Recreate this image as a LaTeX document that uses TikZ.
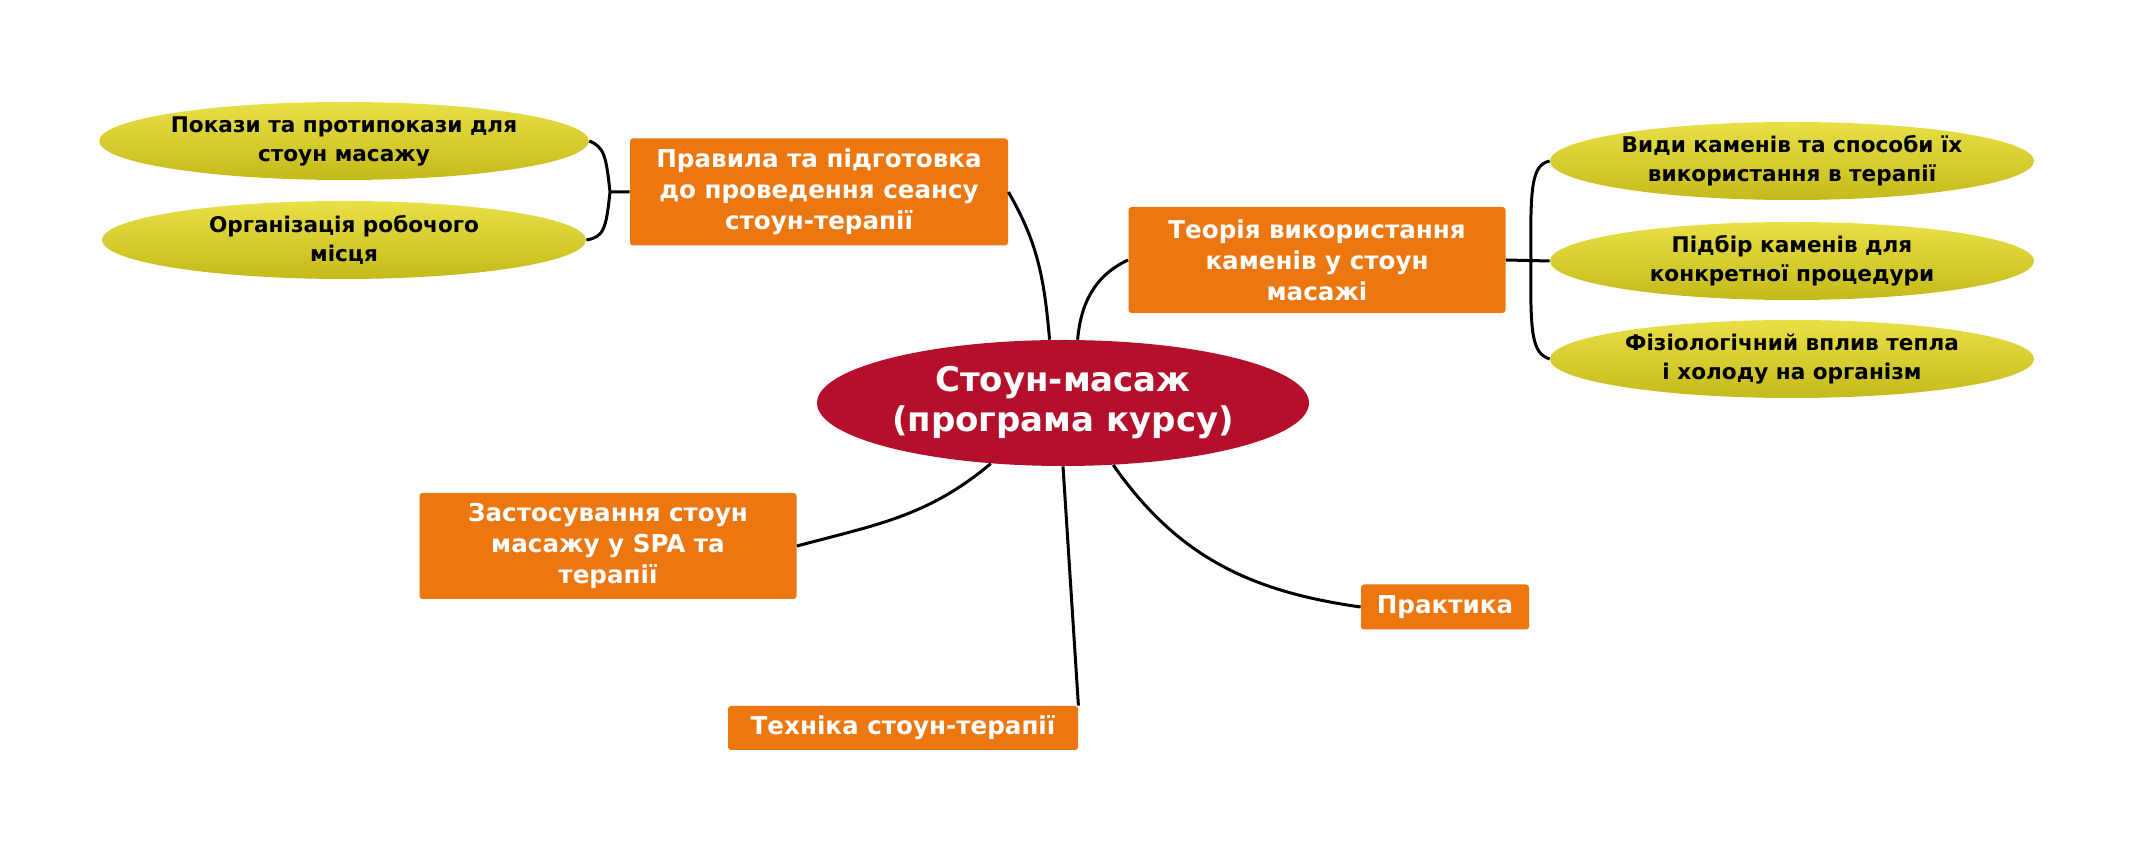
\documentclass[tikz,border=0pt]{standalone}
\usepackage{fontspec}
\setmainfont{DejaVu Sans}
\usetikzlibrary{shapes.geometric}
\definecolor{rootred}{HTML}{B5102B}
\definecolor{topicorange}{HTML}{EC7711}
\definecolor{leaftop}{HTML}{E8E046}
\definecolor{leafbottom}{HTML}{C5BA1B}

\begin{document}
\begin{tikzpicture}
  [x=0.5pt,y=0.5pt,
   root/.style={ellipse,fill=rootred,text=white,inner sep=0pt,minimum width=246pt,minimum height=63pt,align=center,font=\bfseries\fontsize{17}{20}\selectfont},
   topic/.style={rectangle,rounded corners=1.5pt,fill=topicorange,text=white,inner sep=0pt,align=center,font=\bfseries\fontsize{12.3}{15.5}\selectfont},
   leaf/.style={ellipse,top color=leaftop,bottom color=leafbottom,inner sep=0pt,minimum width=242pt,minimum height=39pt,align=center,font=\bfseries\fontsize{10.8}{14.5}\selectfont},
   link/.style={draw,line width=1.5pt}]
  \useasboundingbox (0,0) rectangle (2135,855);
  \node[root] (rt) at (1063,452) {Стоун-масаж\\(програма курсу)};
  \node[topic,minimum width=189pt,minimum height=53.5pt] (tr) at (819,663) {Правила та підготовка\\до проведення сеансу\\стоун-терапії};
  \node[topic,minimum width=188.5pt,minimum height=53pt] (tt) at (1317,595) {Теорія використання\\каменів у стоун\\масажі};
  \node[topic,minimum width=188.5pt,minimum height=53pt] (ts) at (608,309) {Застосування стоун\\масажу у SPA та\\терапії};
  \node[topic,minimum width=175pt,minimum height=22pt] (tk) at (903,127) {Техніка стоун-терапії};
  \node[topic,minimum width=84pt,minimum height=22.5pt] (tp) at (1445,248) {Практика};

  \node[leaf] (l1) at (344,714) {Покази та протипокази для\\стоун масажу};
  \node[leaf] (l2) at (344,615) {Організація робочого\\місця};
  \node[leaf] (r1) at (1792,694) {Види каменів та способи їх\\використання в терапії};
  \node[leaf] (r2) at (1792,594) {Підбір каменів для\\конкретної процедури};
  \node[leaf] (r3) at (1792,496) {Фізіологічний вплив тепла\\і холоду на організм};

  \coordinate (jl) at (610,663);
  \coordinate (jr) at (1531,595);

  \path[link]
    (tr.east) to[out=-60,in=95] (rt.102)
    (rt.77) to[out=85,in=205] (tt.west)
    (rt.220) to[out=-140,in=15] (ts.east)
    (rt.south) -- (tk.north east)
    (rt.-51) to[out=-55,in=172] (tp.west);
  \path[link]
    (tr.west) -- (jl)
    (jl) .. controls (606,700) and (604,708) .. (l1.east)
    (jl) .. controls (606,626) and (604,618) .. (l2.east)
    (tt.east) -- (r2.west)
    (jr) .. controls (1530,670) and (1532,690) .. (r1.west)
    (jr) .. controls (1530,520) and (1532,502) .. (r3.west);
\end{tikzpicture}
\end{document}
